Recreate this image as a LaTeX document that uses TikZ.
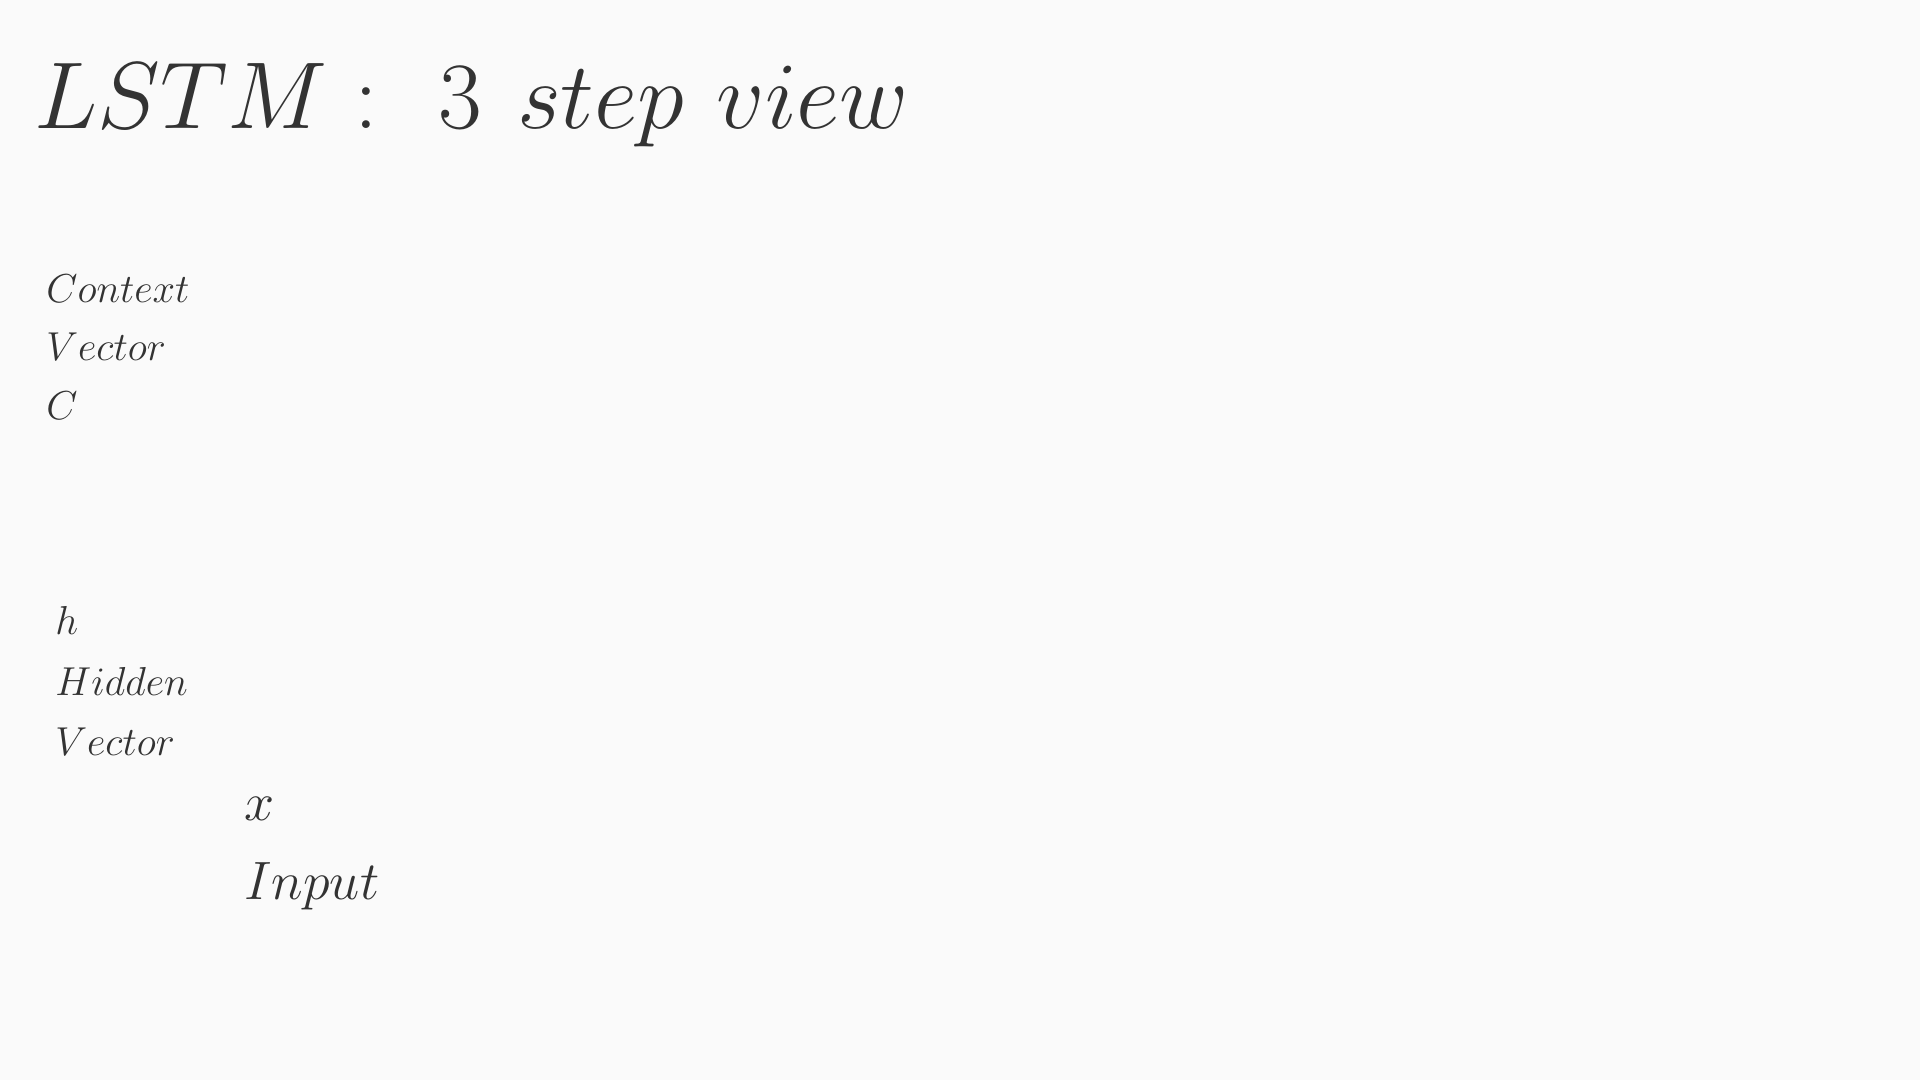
\RequirePackage{fix-cm}
\documentclass[tikz,border=0pt]{standalone}
\usepackage{tikz}
\usetikzlibrary{positioning}
\definecolor{pageBg}{HTML}{FAFAFA}
\definecolor{inkGray}{HTML}{333333}
\tikzset{
    lbl/.style={anchor=base west, inner sep=0pt, text=inkGray},
    titleFont/.style={font=\fontsize{47.5}{57}\selectfont},
    smallFont/.style={font=\fontsize{20.2}{24}\selectfont},
    inputFont/.style={font=\fontsize{27}{32}\selectfont}
}
\begin{document}
\begin{tikzpicture}[x=0.5pt, y=0.5pt]
        % Page
        \fill[pageBg] (0,0) rectangle (1920,1080);
        \useasboundingbox (0,0) rectangle (1920,1080);

        % Title
        \node[lbl, titleFont] (title) at (34, 951)
            {$LSTM :\hspace{0.358em}3\hspace{0.37em}step\hspace{0.345em}view$};

        % Context vector
        \node[lbl, smallFont] (ctxA) at (46, 777) {$Context$};
        \node[lbl, smallFont] (ctxB) at (46, 719) {$Vector$};
        \node[lbl, smallFont] (ctxC) at (46, 660) {$C$};

        % Hidden vector
        \node[lbl, smallFont] (hidA) at (55, 445) {$h$};
        \node[lbl, smallFont] (hidB) at (55, 384.5) {$Hidden$};
        \node[lbl, smallFont] (hidC) at (55, 324.5) {$Vector$};

        % Input
        \node[lbl, inputFont] (inA) at (244, 259.5) {$x$};
        \node[lbl, inputFont] (inB) at (244, 180) {$Input$};
    \end{tikzpicture}
\end{document}
